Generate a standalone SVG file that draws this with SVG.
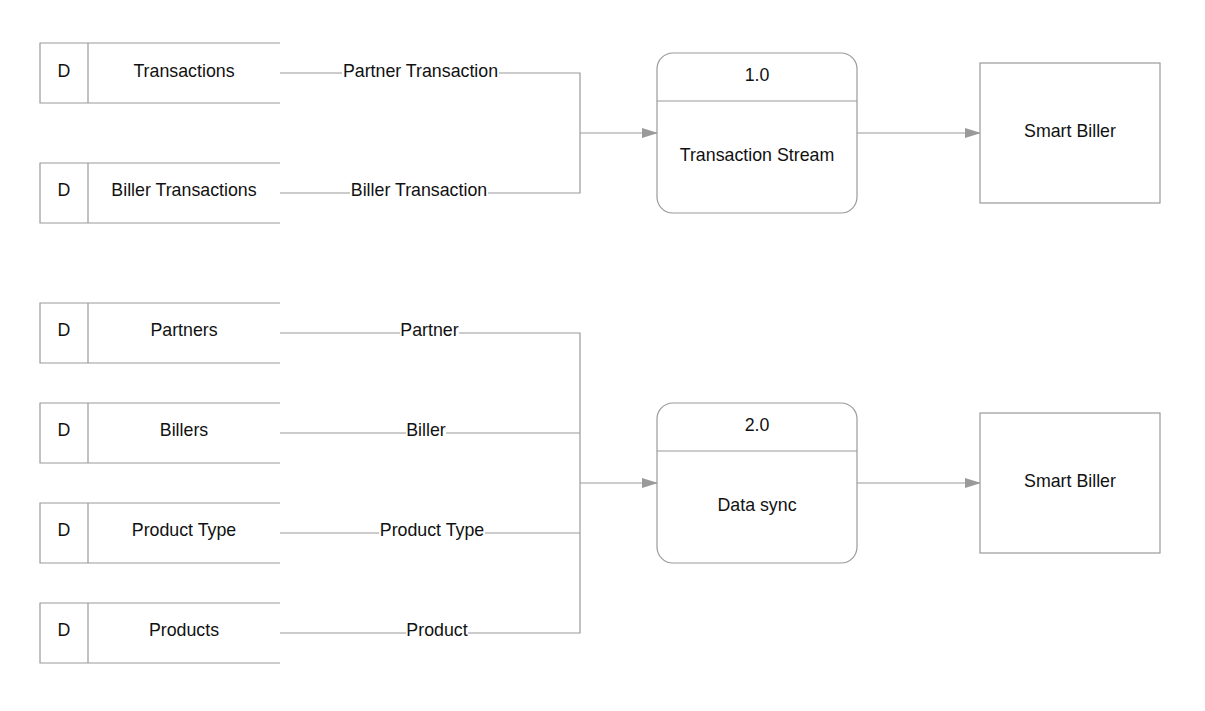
<svg xmlns="http://www.w3.org/2000/svg" width="1205" height="711" viewBox="0 0 1205 711">
<defs>
<style>
.s{fill:none;stroke:#9a9a9a;stroke-width:1.2}
.b{fill:#fff;stroke:#9a9a9a;stroke-width:1.2}
.t{font-family:"Liberation Sans",Arial,sans-serif;font-size:17.8px;fill:#111;text-anchor:middle}
.lb{fill:#fff}
</style>
<marker id="ah" markerWidth="16" markerHeight="10" refX="15" refY="5" orient="auto" markerUnits="userSpaceOnUse">
<path d="M0,0 L16,5 L0,10 Z" fill="#9a9a9a"/>
</marker>
</defs>
<rect width="1205" height="711" fill="#fff"/>
<g id="connectors">
<path class="s" d="M280,73 H580 V193 H280"/>
<path class="s" d="M580,133 H657" marker-end="url(#ah)"/>
<path class="s" d="M857,133 H980" marker-end="url(#ah)"/>
<path class="s" d="M280,333 H580 V633 H280 M280,433 H580 M280,533 H580"/>
<path class="s" d="M580,483 H657" marker-end="url(#ah)"/>
<path class="s" d="M857,483 H980" marker-end="url(#ah)"/>
<rect class="lb" x="342" y="62" width="157" height="20"/>
<text class="t" x="420.5" y="77">Partner Transaction</text>
<rect class="lb" x="350" y="182" width="138" height="20"/>
<text class="t" x="419" y="196">Biller Transaction</text>
<rect class="lb" x="400" y="322" width="59" height="20"/>
<text class="t" x="429.5" y="336">Partner</text>
<rect class="lb" x="406" y="422" width="40" height="20"/>
<text class="t" x="426" y="436">Biller</text>
<rect class="lb" x="379" y="522" width="106" height="20"/>
<text class="t" x="432" y="536">Product Type</text>
<rect class="lb" x="406" y="622" width="62" height="20"/>
<text class="t" x="437" y="636">Product</text>
</g>
<g id="ds-transactions">
<path class="s" d="M280,43 H40 V103 H280 M88,43 V103"/>
<text class="t" x="64" y="77">D</text><text class="t" x="184" y="77">Transactions</text>
</g>
<g id="ds-biller-transactions">
<path class="s" d="M280,163 H40 V223 H280 M88,163 V223"/>
<text class="t" x="64" y="196">D</text><text class="t" x="184" y="196">Biller Transactions</text>
</g>
<g id="ds-partners">
<path class="s" d="M280,303 H40 V363 H280 M88,303 V363"/>
<text class="t" x="64" y="336">D</text><text class="t" x="184" y="336">Partners</text>
</g>
<g id="ds-billers">
<path class="s" d="M280,403 H40 V463 H280 M88,403 V463"/>
<text class="t" x="64" y="436">D</text><text class="t" x="184" y="436">Billers</text>
</g>
<g id="ds-product-type">
<path class="s" d="M280,503 H40 V563 H280 M88,503 V563"/>
<text class="t" x="64" y="536">D</text><text class="t" x="184" y="536">Product Type</text>
</g>
<g id="ds-products">
<path class="s" d="M280,603 H40 V663 H280 M88,603 V663"/>
<text class="t" x="64" y="636">D</text><text class="t" x="184" y="636">Products</text>
</g>
<g id="p1">
<rect class="b" x="657" y="53" width="200" height="160" rx="16"/>
<path class="s" d="M657,101 H857"/>
<text class="t" x="757" y="81">1.0</text>
<text class="t" x="757" y="161">Transaction Stream</text>
</g>
<g id="p2">
<rect class="b" x="657" y="403" width="200" height="160" rx="16"/>
<path class="s" d="M657,451 H857"/>
<text class="t" x="757" y="431">2.0</text>
<text class="t" x="757" y="511">Data sync</text>
</g>
<g id="e1">
<rect class="b" x="980" y="63" width="180" height="140"/>
<text class="t" x="1070" y="137">Smart Biller</text>
</g>
<g id="e2">
<rect class="b" x="980" y="413" width="180" height="140"/>
<text class="t" x="1070" y="487">Smart Biller</text>
</g>
</svg>
